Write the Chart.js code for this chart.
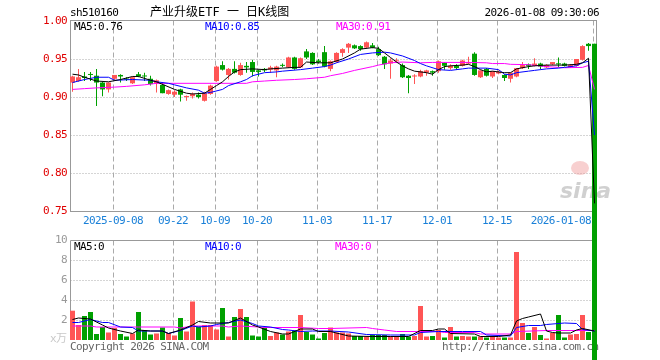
<!DOCTYPE html>
<html>
<head>
<meta charset="utf-8">
<script src="https://cdn.jsdelivr.net/npm/chart.js@4/dist/chart.umd.min.js"></script>
<style>
  html, body { margin: 0; padding: 0; background: #fff; }
  canvas { display: block; }
</style>
</head>
<body>
<canvas id="kline" width="660" height="360"></canvas>
<script>
// daily candles, 2025-08-28 .. 2026-01-08 (88 trading days)
const opens  = [0.919,0.921,0.927,0.930,0.928,0.919,0.910,0.924,0.929,0.924,
                0.918,0.930,0.928,0.924,0.918,0.916,0.904,0.903,0.910,0.900,
                0.901,0.903,0.895,0.904,0.921,0.942,0.929,0.937,0.929,0.941,
                0.946,0.935,0.937,0.936,0.935,0.942,0.939,0.952,0.939,0.960,
                0.958,0.948,0.959,0.937,0.946,0.958,0.965,0.968,0.967,0.965,
                0.968,0.963,0.953,0.944,0.947,0.942,0.928,0.927,0.927,0.932,
                0.934,0.934,0.945,0.938,0.941,0.941,0.944,0.957,0.926,0.937,
                0.927,0.931,0.929,0.924,0.927,0.938,0.943,0.941,0.944,0.939,
                0.943,0.944,0.944,0.939,0.941,0.949,0.970,0.970];
const highs  = [0.928,0.937,0.933,0.933,0.937,0.920,0.919,0.929,0.930,0.926,
                0.927,0.933,0.932,0.928,0.923,0.919,0.910,0.909,0.911,0.902,
                0.906,0.906,0.907,0.916,0.941,0.947,0.938,0.947,0.945,0.946,
                0.949,0.936,0.938,0.941,0.941,0.944,0.953,0.953,0.952,0.963,
                0.959,0.950,0.967,0.948,0.959,0.964,0.971,0.969,0.968,0.973,
                0.971,0.966,0.954,0.951,0.951,0.944,0.929,0.930,0.936,0.936,
                0.935,0.948,0.946,0.943,0.943,0.949,0.953,0.959,0.935,0.938,
                0.934,0.935,0.930,0.932,0.938,0.946,0.944,0.951,0.945,0.943,
                0.946,0.952,0.945,0.943,0.950,0.968,0.971,0.970];
const lows   = [0.907,0.920,0.921,0.921,0.888,0.901,0.906,0.922,0.919,0.921,
                0.917,0.926,0.921,0.915,0.906,0.905,0.903,0.900,0.894,0.895,
                0.898,0.898,0.894,0.903,0.920,0.935,0.923,0.931,0.928,0.932,
                0.927,0.927,0.933,0.932,0.926,0.939,0.938,0.936,0.938,0.950,
                0.942,0.944,0.939,0.934,0.945,0.953,0.958,0.963,0.961,0.964,
                0.964,0.954,0.937,0.924,0.945,0.925,0.905,0.917,0.926,0.928,
                0.928,0.932,0.936,0.936,0.936,0.940,0.943,0.928,0.925,0.927,
                0.925,0.930,0.921,0.919,0.926,0.937,0.937,0.940,0.937,0.938,
                0.942,0.939,0.940,0.938,0.940,0.948,0.961,0.000];
const closes = [0.927,0.926,0.925,0.929,0.919,0.910,0.919,0.929,0.927,0.923,
                0.926,0.927,0.927,0.917,0.922,0.905,0.909,0.907,0.903,0.901,
                0.904,0.900,0.905,0.915,0.940,0.936,0.937,0.932,0.942,0.939,
                0.933,0.933,0.935,0.939,0.940,0.941,0.952,0.937,0.951,0.952,
                0.943,0.946,0.940,0.947,0.958,0.963,0.970,0.964,0.963,0.972,
                0.965,0.955,0.943,0.948,0.948,0.926,0.925,0.928,0.934,0.935,
                0.932,0.947,0.941,0.941,0.938,0.948,0.946,0.929,0.935,0.928,
                0.934,0.933,0.925,0.932,0.938,0.942,0.941,0.944,0.940,0.942,
                0.946,0.943,0.941,0.942,0.950,0.967,0.967,0.000];
// volume, 万手
const volumes = [2.93,1.5,2.4,2.8,0.6,1.3,0.75,1.2,0.6,0.35,
                 0.65,2.8,1.0,0.55,0.65,1.25,0.7,0.45,2.2,0.85,
                 3.85,1.35,1.5,1.5,1.05,3.2,0.35,2.3,3.1,2.3,
                 0.45,0.35,1.25,0.4,0.75,0.55,0.85,0.95,2.5,0.8,
                 0.55,0.15,0.7,1.25,0.75,0.75,0.65,0.4,0.4,0.35,
                 0.5,0.5,0.5,0.4,0.4,0.6,0.35,0.4,3.4,0.35,
                 0.4,1.0,0.25,1.3,0.35,0.4,0.35,0.35,0.35,0.25,
                 0.35,0.25,0.25,0.25,8.8,1.7,0.7,1.3,0.5,0.15,
                 0.7,2.5,0.25,0.55,0.6,2.5,0.8,1.0];

// moving averages (candle index, value)
const ma5Idx  = [0,1,2,4,6,8,10,11,13,14,17,19,20,22,23,24,25,26,27,28,30,32,33,35,37,38,39,41,43,45,47,48,50,51,52,53,54,55,56,57,59,60,61,62,63,65,66,67,68,69,70,72,73,74,76,77,79,81,82,84,85,86,87];
const ma5Val  = [0.930,0.929,0.926,0.921,0.920,0.923,0.927,0.927,0.922,0.920,0.910,0.905,0.904,0.905,0.910,0.915,0.920,0.927,0.933,0.936,0.937,0.936,0.937,0.938,0.939,0.939,0.946,0.945,0.945,0.950,0.958,0.963,0.965,0.964,0.958,0.952,0.946,0.941,0.937,0.934,0.932,0.930,0.936,0.940,0.941,0.942,0.943,0.940,0.936,0.933,0.934,0.932,0.932,0.937,0.940,0.941,0.942,0.942,0.942,0.943,0.945,0.951,0.76];
const ma10Idx = [0,2,4,6,7,10,13,14,16,17,19,21,22,23,25,26,28,29,30,32,34,35,38,40,42,43,44,46,48,50,52,53,55,57,58,59,61,63,65,66,69,71,72,73,74,76,77,79,81,82,84,85,86,87];
const ma10Val = [0.919,0.923,0.926,0.926,0.922,0.923,0.922,0.920,0.918,0.916,0.912,0.909,0.905,0.906,0.910,0.915,0.920,0.923,0.928,0.932,0.933,0.934,0.936,0.938,0.940,0.942,0.945,0.950,0.956,0.958,0.959,0.958,0.954,0.948,0.944,0.941,0.936,0.935,0.937,0.938,0.938,0.936,0.930,0.929,0.932,0.934,0.935,0.937,0.938,0.939,0.941,0.945,0.947,0.85];
const ma30Idx = [0,2,4,7,9,12,14,29,30,32,34,37,39,42,43,45,47,50,51,53,55,58,60,66,69,70,72,73,76,79,82,85,86,87];
const ma30Val = [0.910,0.911,0.912,0.913,0.914,0.916,0.918,0.918,0.920,0.921,0.922,0.923,0.924,0.926,0.928,0.931,0.935,0.940,0.942,0.945,0.946,0.945,0.9455,0.9455,0.945,0.944,0.944,0.943,0.9425,0.940,0.9385,0.939,0.9415,0.91];

const vma5Idx  = [0,1,3,5,6,8,10,11,13,15,16,18,20,21,23,26,28,30,31,33,35,36,38,40,41,43,46,50,53,56,58,60,61,62,63,67,68,71,73,74,75,76,78,79,80,81,83,84,85,87];
const vma5Val  = [2.05,2.2,2.1,1.5,1.2,0.9,0.65,1.0,0.9,0.9,0.65,1.0,1.5,1.85,1.7,1.7,2.2,1.5,1.3,0.85,0.6,0.6,1.1,1.1,0.85,0.85,0.4,0.35,0.35,0.35,0.95,0.95,1.1,1.1,0.65,0.6,0.35,0.35,0.5,1.9,2.15,2.3,2.6,0.9,0.75,0.7,0.7,1.0,1.15,0.9];
const vma10Idx = [0,1,3,5,6,8,10,11,13,15,16,18,20,21,23,24,26,28,30,31,33,35,36,38,40,43,46,49,53,57,58,61,65,68,69,73,74,76,78,79,82,84,85,87];
const vma10Val = [1.75,1.75,2.05,1.75,1.75,1.3,1.25,0.9,0.9,0.9,0.65,0.95,1.4,1.3,1.4,1.55,1.75,2.0,1.65,1.4,1.3,1.05,1.0,0.85,0.9,0.9,0.8,0.55,0.5,0.5,0.75,0.85,0.85,0.85,0.5,0.4,1.25,1.45,1.45,1.55,1.7,1.65,1.05,0.9];
const vma30Idx = [0,3,4,11,17,18,20,25,26,28,31,32,38,41,43,49,50,52,54,61,62,67,68,73,74,79,87];
const vma30Val = [1.4,1.4,1.3,1.3,1.3,1.2,1.4,1.4,1.3,1.4,1.3,1.25,1.25,1.15,1.15,1.25,1.15,1.0,0.85,0.85,0.75,0.75,0.6,0.6,0.85,0.95,0.95];

const dateTickIdx = [7, 17, 24, 31, 41, 51, 61, 71, 87];
const dateTickLabels = ['2025-09-08', '09-22', '10-09', '10-20', '11-03', '11-17', '12-01', '12-15', '2026-01-08'];
const priceTicks = [1.00, 0.95, 0.90, 0.85, 0.80, 0.75];
const volTicks = [10, 8, 6, 4, 2];

const RED = '#ff5555';
const GREEN = '#00a000';
const MONO = "'DejaVu Sans Mono', 'Noto Sans CJK SC', monospace";

const idx = closes.map((c, i) => i);
const candleColor = idx.map(i => closes[i] >= opens[i] ? RED : GREEN);
const pts = (xs, ys) => xs.map((x, k) => ({ x: x, y: ys[k] }));

const barBase = {
    type: 'bar',
    grouped: false,
    borderWidth: 0,
    inflateAmount: 0,
    backgroundColor: candleColor
};
const maLine = (data, color, axis) => ({
    type: 'line',
    data: data,
    yAxisID: axis,
    borderColor: color,
    borderWidth: 1,
    pointRadius: 0,
    fill: false,
    tension: 0,
    order: 1
});

// texts, frames and grid lines, painted under the data
const decor = {
    id: 'decor',
    beforeDatasetsDraw(chart) {
        const { ctx, chartArea: a, scales } = chart;
        const x = scales.x, y = scales.y, v = scales.v;
        const L = a.left + 0.5, R = a.right - 0.5;
        const pTop = Math.round(y.getPixelForValue(1.00)) - 0.5;
        const pBot = Math.round(y.getPixelForValue(0.75)) + 0.5;
        const vTop = Math.round(v.getPixelForValue(10)) + 0.5;
        const vBot = v.getPixelForValue(0);
        const seg = (x1, y1, x2, y2) => { ctx.beginPath(); ctx.moveTo(x1, y1); ctx.lineTo(x2, y2); ctx.stroke(); };
        const txt = (s, tx, ty, color, align, size) => {
            ctx.font = (size || 11) + 'px ' + MONO;
            ctx.fillStyle = color;
            ctx.textAlign = align || 'left';
            ctx.textBaseline = 'middle';
            ctx.fillText(s, tx, ty);
        };
        ctx.save();
        ctx.lineWidth = 1;

        // dotted horizontal grid
        ctx.strokeStyle = '#aaa';
        ctx.setLineDash([1, 2]);
        priceTicks.slice(1, -1).forEach(p => {
            const yy = Math.round(y.getPixelForValue(p)) + 0.5;
            seg(L, yy, R, yy);
        });
        volTicks.slice(1).forEach(t => {
            const yy = Math.round(v.getPixelForValue(t)) + 0.5;
            seg(L, yy, R, yy);
        });

        // dashed vertical grid at date ticks
        ctx.setLineDash([5, 3]);
        dateTickIdx.forEach(i => {
            const xx = Math.round(x.getPixelForValue(i)) - 2 + 0.5;
            seg(xx, pTop, xx, pBot);
            seg(xx, vTop, xx, vBot);
        });

        // frames
        ctx.setLineDash([]);
        ctx.strokeStyle = '#999';
        ctx.strokeRect(L, pTop, R - L, pBot - pTop);
        seg(L, vTop, R, vTop);
        seg(L, vTop, L, vBot);
        seg(R, vTop, R, vBot);

        ctx.letterSpacing = '-0.6px';

        // header
        txt('sh510160', 70, 13, '#000');
        txt('2026-01-08 09:30:06', 599, 13, '#000', 'right');
        ctx.letterSpacing = '0px';
        txt('产业升级ETF 一 日K线图', 150, 13, '#000', 'left', 12);
        ctx.letterSpacing = '-0.6px';

        // price axis labels
        priceTicks.forEach(p => txt(p.toFixed(2), 67, Math.round(y.getPixelForValue(p)), '#e00000', 'right'));
        // volume axis labels
        volTicks.forEach(t => txt(String(t), 67, Math.round(v.getPixelForValue(t)), '#999', 'right'));
        txt('x万', 50, vBot - 1, '#c8c8c8');

        // date labels
        dateTickIdx.forEach((i, k) => {
            const xx = Math.round(x.getPixelForValue(i)) - 2;
            const last = k === dateTickIdx.length - 1;
            txt(dateTickLabels[k], last ? 591 : xx, 221, '#1a80d8', last ? 'right' : 'center');
        });

        // legends
        txt('MA5:0.76', 74, 27, '#000');
        txt('MA10:0.85', 205, 27, '#0000ff');
        txt('MA30:0.91', 336, 27, '#ff00ff');
        txt('MA5:0', 74, 247, '#000');
        txt('MA10:0', 205, 247, '#0000ff');
        txt('MA30:0', 335, 247, '#ff00ff');

        // footer
        txt('Copyright 2026 SINA.COM', 70, 347, '#666');
        txt('http://finance.sina.com.cn', 442, 347, '#666');

        // sina watermark
        ctx.letterSpacing = '0px';
        ctx.fillStyle = 'rgba(240,150,150,0.45)';
        ctx.beginPath();
        ctx.ellipse(580, 168, 9, 7, 0, 0, Math.PI * 2);
        ctx.fill();
        ctx.font = "italic bold 22px 'DejaVu Sans', sans-serif";
        ctx.fillStyle = 'rgba(170,170,170,0.55)';
        ctx.textAlign = 'left';
        ctx.textBaseline = 'alphabetic';
        ctx.fillText('sina', 560, 198);

        ctx.restore();
    }
};

new Chart(document.getElementById('kline'), {
    type: 'bar',
    data: {
        datasets: [
            // wicks
            Object.assign({}, barBase, {
                data: idx.map(i => ({ x: i, y: [lows[i], highs[i]] })),
                yAxisID: 'y',
                barThickness: 1,
                clip: false,
                order: 3
            }),
            // bodies
            Object.assign({}, barBase, {
                data: idx.map(i => ({ x: i, y: [opens[i], closes[i]] })),
                yAxisID: 'y',
                barThickness: 5,
                minBarLength: 1,
                clip: false,
                order: 2
            }),
            maLine(pts(ma5Idx, ma5Val), '#000000', 'y'),
            maLine(pts(ma10Idx, ma10Val), '#0000ff', 'y'),
            maLine(pts(ma30Idx, ma30Val), '#ff00ff', 'y'),
            // volume
            Object.assign({}, barBase, {
                data: idx.map(i => ({ x: i, y: volumes[i] })),
                yAxisID: 'v',
                barThickness: 5,
                order: 4
            }),
            maLine(pts(vma5Idx, vma5Val), '#000000', 'v'),
            maLine(pts(vma10Idx, vma10Val), '#0000ff', 'v'),
            maLine(pts(vma30Idx, vma30Val), '#ff00ff', 'v')
        ]
    },
    options: {
        responsive: false,
        animation: false,
        devicePixelRatio: 1,
        layout: { padding: { left: 70, right: 63, top: 21, bottom: 20 } },
        scales: {
            x: { type: 'linear', offset: false, min: -2.5 / 6, max: -2.5 / 6 + 527 / 6, display: false },
            y: { type: 'linear', min: 1.0 - 319 / 760, max: 1.0, display: false },
            v: { type: 'linear', min: 0, max: 31.9, display: false }
        },
        plugins: {
            legend: { display: false },
            tooltip: { enabled: false }
        }
    },
    plugins: [decor]
});
</script>
</body>
</html>
